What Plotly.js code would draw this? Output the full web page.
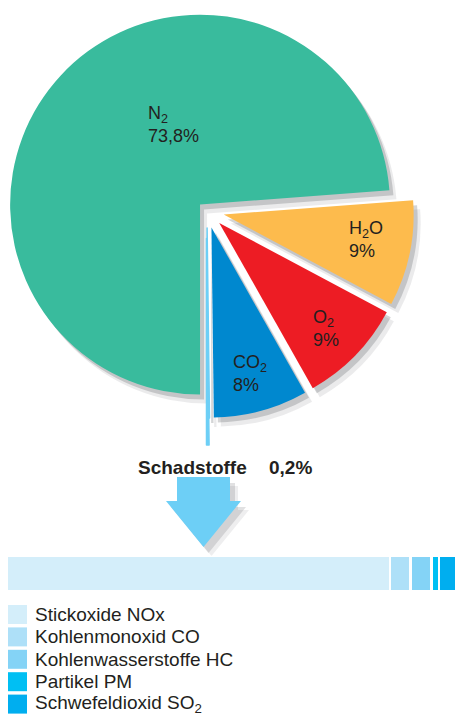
<!DOCTYPE html>
<html>
<head>
<meta charset="utf-8">
<script src="https://cdn.plot.ly/plotly-3.0.1.min.js"></script>
<style>
  html, body { margin: 0; padding: 0; background: #ffffff; }
  #chart { width: 456px; height: 715px; }
</style>
</head>
<body>
<div id="chart"></div>
<script>
// ---- data ----
const pieLabels = ['N2', 'H2O', 'O2', 'CO2', 'Schadstoffe'];
const pieLabelsHtml = ['N<sub>2</sub>', 'H<sub>2</sub>O', 'O<sub>2</sub>', 'CO<sub>2</sub>', 'Schadstoffe'];
const pieValues = [73.8, 9, 9, 8, 0.2];
const pieColors = ['#39bb9d', '#fdbb4d', '#ed1c24', '#0088cf', '#6dcff6'];

const pollutantNames = ['Stickoxide NOx', 'Kohlenmonoxid CO', 'Kohlenwasserstoffe HC', 'Partikel PM', 'Schwefeldioxid SO<sub>2</sub>'];
const pollutantValues = [85.3, 4.6, 4.6, 1.7, 3.8];
const pollutantColors = ['#d4eefa', '#aee0f8', '#84d3f6', '#00bff3', '#00aeef'];

// ---- helpers ----
const W = 456, H = 715;
const X = px => px / W;
const Y = py => 1 - py / H;
const fmt = v => String(v).replace('.', ',') + '%';
const FONT = '"Liberation Sans", Arial, Helvetica, sans-serif';
const TXT = '#231f20';

const pulls = [0.05, 0.09, 0.09, 0.09, 0.09];

function pieDomain(cx, cy, rx, ry) {
  return { x: [X(cx - rx), X(cx + rx)], y: [Y(cy + ry), Y(cy - ry)] };
}

function shadowTrace(dx, dy, alpha) {
  return {
    type: 'pie', values: pieValues, labels: pieLabels, sort: false,
    direction: 'clockwise', rotation: 180, pull: pulls,
    marker: { colors: pieValues.map(() => 'rgba(60,62,70,' + alpha + ')'), line: { width: 0 } },
    textinfo: 'none', hoverinfo: 'skip', showlegend: false,
    domain: pieDomain(207 + dx, 211 + dy, 207, 208)
  };
}

const traces = [];
traces.push(shadowTrace(7, 9, 0.10));
traces.push(shadowTrace(4, 5, 0.22));

// long thin pollutant sliver (same slices, only Schadstoffe visible)
traces.push({
  type: 'pie', values: pieValues, labels: pieLabels, sort: false,
  direction: 'clockwise', rotation: 180,
  marker: {
    colors: pieColors.map((c, i) => i === 4 ? c : 'rgba(0,0,0,0)'),
    line: { color: pieColors.map((c, i) => i === 4 ? c : 'rgba(0,0,0,0)'), width: pieValues.map((v, i) => i === 4 ? 1.5 : 0) }
  },
  textinfo: 'none', hoverinfo: 'skip', showlegend: false,
  domain: pieDomain(206.5, 238.5, 206.5, 206.5)
});

// main pie
traces.push({
  type: 'pie', values: pieValues, labels: pieLabels, sort: false,
  direction: 'clockwise', rotation: 180, pull: pulls,
  textinfo: 'none',
  marker: {
    colors: pieColors,
    line: { color: pieColors.map((c, i) => i === 4 ? c : 'rgba(0,0,0,0)'), width: pieValues.map((v, i) => i === 4 ? 1.5 : 0) }
  },
  hoverinfo: 'skip', showlegend: false,
  domain: pieDomain(207, 211, 207, 208)
});

// stacked pollutant bar
pollutantNames.forEach((n, i) => {
  traces.push({
    type: 'bar', orientation: 'h', name: n,
    x: [pollutantValues[i]], y: ['Schadstoffe'],
    marker: { color: pollutantColors[i], line: { color: '#ffffff', width: 2.5 } },
    hoverinfo: 'skip', showlegend: false, xaxis: 'x', yaxis: 'y'
  });
});

// ---- decorations ----
const shapes = [];
const annotations = [];

// slice labels (left-aligned, as in the original)
const sliceLabelPos = [[147, 125], [348, 240], [312, 328], [232, 373]];
sliceLabelPos.forEach((p, i) => {
  annotations.push({
    xref: 'paper', yref: 'paper', x: X(p[0] - 1), y: Y(p[1]), xanchor: 'left', yanchor: 'middle',
    align: 'left', showarrow: false,
    text: pieLabelsHtml[i] + '<br>' + fmt(pieValues[i]),
    font: { family: FONT, size: 18, color: TXT }
  });
});

function arrowPath(dx, dy) {
  const pts = [[177, 477], [230, 477], [230, 501], [241, 501], [203.5, 547], [166, 501], [177, 501]];
  return 'M' + pts.map(p => X(p[0] + dx) + ',' + Y(p[1] + dy)).join('L') + 'Z';
}
shapes.push({ type: 'path', xref: 'paper', yref: 'paper', path: arrowPath(8, 9), fillcolor: 'rgba(40,40,50,0.08)', line: { width: 0 }, layer: 'below' });
shapes.push({ type: 'path', xref: 'paper', yref: 'paper', path: arrowPath(5, 6), fillcolor: 'rgba(40,40,50,0.14)', line: { width: 0 }, layer: 'below' });
shapes.push({ type: 'path', xref: 'paper', yref: 'paper', path: arrowPath(0, 0), fillcolor: '#6dcff6', line: { width: 0 }, layer: 'above' });

annotations.push({
  xref: 'paper', yref: 'paper', x: X(136), y: Y(467), xanchor: 'left', yanchor: 'middle',
  text: '<b>' + pieLabels[4] + '</b>', showarrow: false,
  font: { family: FONT, size: 19, color: TXT }
});
annotations.push({
  xref: 'paper', yref: 'paper', x: X(267), y: Y(467), xanchor: 'left', yanchor: 'middle',
  text: '<b>' + fmt(pieValues[4]) + '</b>', showarrow: false,
  font: { family: FONT, size: 19, color: TXT }
});

// legend
const legTop = 605, legStep = 22.4, sq = 19;
pollutantNames.forEach((n, i) => {
  const y0 = legTop + i * legStep;
  shapes.push({
    type: 'rect', xref: 'paper', yref: 'paper',
    x0: X(8), x1: X(8 + sq), y0: Y(y0), y1: Y(y0 + sq),
    fillcolor: pollutantColors[i], line: { width: 0 }
  });
  annotations.push({
    xref: 'paper', yref: 'paper', x: X(33), y: Y(y0 + sq / 2), xanchor: 'left', yanchor: 'middle',
    text: n, showarrow: false, font: { family: FONT, size: 19, color: TXT }
  });
});

const layout = {
  width: W, height: H,
  margin: { l: 0, r: 0, t: 0, b: 0, pad: 0 },
  paper_bgcolor: '#ffffff', plot_bgcolor: 'rgba(0,0,0,0)',
  showlegend: false,
  barmode: 'stack', bargap: 0,
  xaxis: { domain: [X(6.8), 1], range: [0, 100], visible: false, fixedrange: true },
  yaxis: { domain: [Y(591.2), Y(555.8)], visible: false, fixedrange: true },
  shapes: shapes,
  annotations: annotations,
  font: { family: FONT, color: TXT }
};

Plotly.newPlot('chart', traces, layout, { staticPlot: true, displayModeBar: false });
</script>
</body>
</html>
